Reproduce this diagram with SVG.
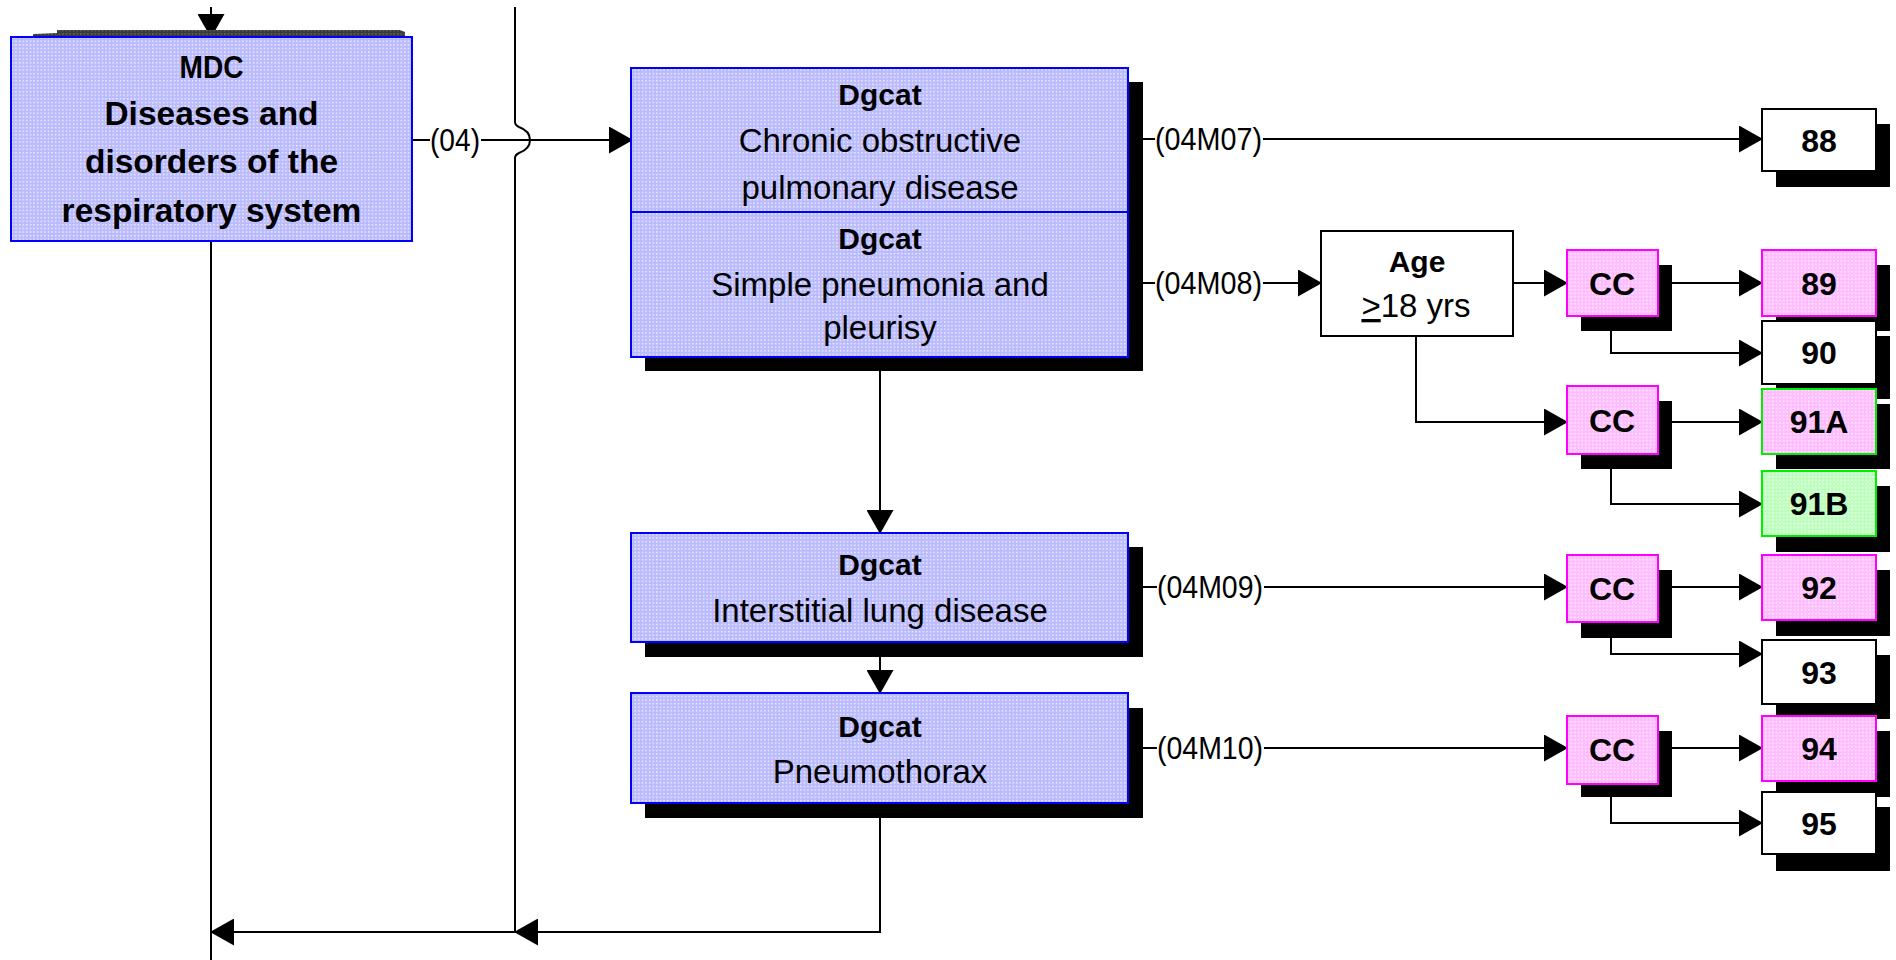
<svg xmlns="http://www.w3.org/2000/svg" width="1896" height="960" viewBox="0 0 1896 960">
<defs>
  <pattern id="pBlue" width="3.6" height="3.6" patternUnits="userSpaceOnUse">
    <rect width="3.6" height="3.6" fill="#babaff"/>
    <rect x="1" y="1" width="1.3" height="1.3" fill="#ffffff"/>
  </pattern>
  <pattern id="pPink" width="3.6" height="3.6" patternUnits="userSpaceOnUse">
    <rect width="3.6" height="3.6" fill="#ffbcff"/>
    <rect x="1" y="1" width="1.3" height="1.3" fill="#ffffff"/>
  </pattern>
  <pattern id="pGreen" width="3.6" height="3.6" patternUnits="userSpaceOnUse">
    <rect width="3.6" height="3.6" fill="#bcffbc"/>
    <rect x="1" y="1" width="1.3" height="1.3" fill="#ffffff"/>
  </pattern>
  <pattern id="pGray" width="3.6" height="3.6" patternUnits="userSpaceOnUse">
    <rect width="3.6" height="3.6" fill="#3a3a3a"/>
    <rect x="1" y="1" width="1.3" height="1.3" fill="#7a7a7a"/>
  </pattern>
  <marker id="arr" markerUnits="userSpaceOnUse" markerWidth="24" markerHeight="27" refX="23" refY="13.5" orient="auto">
    <path d="M0,0 L24,13.5 L0,27 Z" fill="#000"/>
  </marker>
</defs>
<style>
  .blue { fill: url(#pBlue); stroke: #0000ff; stroke-width: 2; }
  .pink { fill: url(#pPink); stroke: #ff00ff; stroke-width: 2; }
  .pinkg { fill: url(#pPink); stroke: #00ee00; stroke-width: 2; }
  .green { fill: url(#pGreen); stroke: #00ee00; stroke-width: 2; }
  .white { fill: #ffffff; stroke: #000; stroke-width: 2; }
  .shadow { fill: #000; }
  .ln { fill: none; stroke: #000; stroke-width: 2; }
  .la { fill: none; stroke: #000; stroke-width: 2; marker-end: url(#arr); }
  text { font-family: "Liberation Sans", Arial, sans-serif; fill: #000; }
  .t { font-size: 33px; text-anchor: middle; }
  .tb { font-size: 33.5px; font-weight: bold; text-anchor: middle; }
  .hd { font-size: 30px; font-weight: bold; text-anchor: middle; }
  .num { font-size: 32px; font-weight: bold; text-anchor: middle; }
  .lbl { font-size: 32px; }
</style>
<rect width="1896" height="960" fill="#ffffff"/>

<g id="connectors">
  <path class="la" d="M211,7 V37"/>
  <path class="ln" d="M412,140 H430"/>
  <path class="la" d="M481,140 H632"/>
  <path class="ln" d="M515,7 V122 Q515,125 519,127 Q530,131 530,140 Q530,149 519,153 Q515,155 515,158 V932"/>
  <path class="ln" d="M211,241 V960"/>
  <path class="la" d="M880,803 V932 H515"/>
  <path class="la" d="M515,932 H211"/>
  <path class="la" d="M880,371 V533"/>
  <path class="la" d="M880,657 V693"/>
  <path class="ln" d="M1143,139 H1155"/>
  <path class="la" d="M1263,139 H1762"/>
  <path class="ln" d="M1143,283 H1155"/>
  <path class="la" d="M1263,283 H1321"/>
  <path class="la" d="M1513,283 H1567"/>
  <path class="la" d="M1416,336 V422 H1567"/>
  <path class="la" d="M1672,283 H1762"/>
  <path class="la" d="M1611,331 V353 H1762"/>
  <path class="la" d="M1672,422 H1762"/>
  <path class="la" d="M1611,469 V504 H1762"/>
  <path class="ln" d="M1143,587 H1157"/>
  <path class="la" d="M1264,587 H1567"/>
  <path class="la" d="M1672,587 H1762"/>
  <path class="la" d="M1611,638 V654 H1762"/>
  <path class="ln" d="M1143,748 H1157"/>
  <path class="la" d="M1264,748 H1567"/>
  <path class="la" d="M1672,748 H1762"/>
  <path class="la" d="M1611,797 V823 H1762"/>
  <text class="lbl" x="430" y="151" textLength="50" lengthAdjust="spacingAndGlyphs">(04)</text>
  <text class="lbl" x="1155" y="150" textLength="107" lengthAdjust="spacingAndGlyphs">(04M07)</text>
  <text class="lbl" x="1155" y="294" textLength="107" lengthAdjust="spacingAndGlyphs">(04M08)</text>
  <text class="lbl" x="1157" y="598" textLength="106" lengthAdjust="spacingAndGlyphs">(04M09)</text>
  <text class="lbl" x="1157" y="759" textLength="106" lengthAdjust="spacingAndGlyphs">(04M10)</text>
</g>

<g id="mdc">
  <polygon points="33,36 33,34 57,33 57,30 400,30 405,32 405,36" fill="url(#pGray)"/>
  <rect class="blue" x="11" y="37" width="401" height="204"/>
  <text class="tb" x="211.5" y="78" textLength="64" lengthAdjust="spacingAndGlyphs" style="font-size:32px">MDC</text>
  <text class="tb" x="211.5" y="125">Diseases and</text>
  <text class="tb" x="211.5" y="173">disorders of the</text>
  <text class="tb" x="211.5" y="222">respiratory system</text>
</g>

<g id="dgcat-copd-pneumonia">
  <rect class="shadow" x="645" y="82" width="498" height="289"/>
  <rect class="blue" x="631" y="68" width="497" height="144"/>
  <rect class="blue" x="631" y="212" width="497" height="145"/>
  <text class="hd" x="880" y="105">Dgcat</text>
  <text class="t" x="880" y="152">Chronic obstructive</text>
  <text class="t" x="880" y="199">pulmonary disease</text>
  <text class="hd" x="880" y="249">Dgcat</text>
  <text class="t" x="880" y="296">Simple pneumonia and</text>
  <text class="t" x="880" y="339">pleurisy</text>
</g>

<g id="dgcat-interstitial">
  <rect class="shadow" x="645" y="547" width="498" height="110"/>
  <rect class="blue" x="631" y="533" width="497" height="109"/>
  <text class="hd" x="880" y="575">Dgcat</text>
  <text class="t" x="880" y="622">Interstitial lung disease</text>
</g>

<g id="dgcat-pneumothorax">
  <rect class="shadow" x="645" y="708" width="498" height="110"/>
  <rect class="blue" x="631" y="693" width="497" height="110"/>
  <text class="hd" x="880" y="737">Dgcat</text>
  <text class="t" x="880" y="783">Pneumothorax</text>
</g>

<g id="age">
  <rect class="white" x="1321" y="231" width="192" height="105"/>
  <text class="hd" x="1417" y="272">Age</text>
  <text class="t" x="1416" y="317"><tspan text-decoration="underline">&gt;</tspan>18 yrs</text>
</g>

<g id="cc1">
  <rect class="shadow" x="1581" y="265" width="91" height="66"/>
  <rect class="pink" x="1567" y="250" width="91" height="66"/>
  <text class="num" x="1612" y="295">CC</text>
</g>
<g id="cc2">
  <rect class="shadow" x="1581" y="401" width="91" height="68"/>
  <rect class="pink" x="1567" y="386" width="91" height="68"/>
  <text class="num" x="1612" y="432">CC</text>
</g>
<g id="cc3">
  <rect class="shadow" x="1581" y="570" width="91" height="68"/>
  <rect class="pink" x="1567" y="555" width="91" height="67"/>
  <text class="num" x="1612" y="600">CC</text>
</g>
<g id="cc4">
  <rect class="shadow" x="1581" y="731" width="91" height="66"/>
  <rect class="pink" x="1567" y="716" width="91" height="68"/>
  <text class="num" x="1612" y="761">CC</text>
</g>

<g id="drg88">
  <rect class="shadow" x="1776" y="124" width="114" height="63"/>
  <rect class="white" x="1762" y="109" width="114" height="62"/>
  <text class="num" x="1819" y="151.5">88</text>
</g>
<g id="drg89">
  <rect class="shadow" x="1776" y="265" width="114" height="66"/>
  <rect class="pink" x="1762" y="250" width="114" height="66"/>
  <text class="num" x="1819" y="294.5">89</text>
</g>
<g id="drg90">
  <rect class="shadow" x="1776" y="336" width="114" height="63"/>
  <rect class="white" x="1762" y="321" width="114" height="63"/>
  <text class="num" x="1819" y="364">90</text>
</g>
<g id="drg91A">
  <rect class="shadow" x="1776" y="404" width="114" height="65"/>
  <rect class="pinkg" x="1762" y="389" width="114" height="65"/>
  <text class="num" x="1819" y="433">91A</text>
</g>
<g id="drg91B">
  <rect class="shadow" x="1776" y="486" width="114" height="66"/>
  <rect class="green" x="1762" y="471" width="114" height="65"/>
  <text class="num" x="1819" y="515">91B</text>
</g>
<g id="drg92">
  <rect class="shadow" x="1776" y="570" width="114" height="66"/>
  <rect class="pink" x="1762" y="555" width="114" height="65"/>
  <text class="num" x="1819" y="599">92</text>
</g>
<g id="drg93">
  <rect class="shadow" x="1776" y="655" width="114" height="64"/>
  <rect class="white" x="1762" y="640" width="114" height="64"/>
  <text class="num" x="1819" y="683.5">93</text>
</g>
<g id="drg94">
  <rect class="shadow" x="1776" y="731" width="114" height="66"/>
  <rect class="pink" x="1762" y="716" width="114" height="65"/>
  <text class="num" x="1819" y="760">94</text>
</g>
<g id="drg95">
  <rect class="shadow" x="1776" y="807" width="114" height="64"/>
  <rect class="white" x="1762" y="792" width="114" height="62"/>
  <text class="num" x="1819" y="834.5">95</text>
</g>
</svg>
